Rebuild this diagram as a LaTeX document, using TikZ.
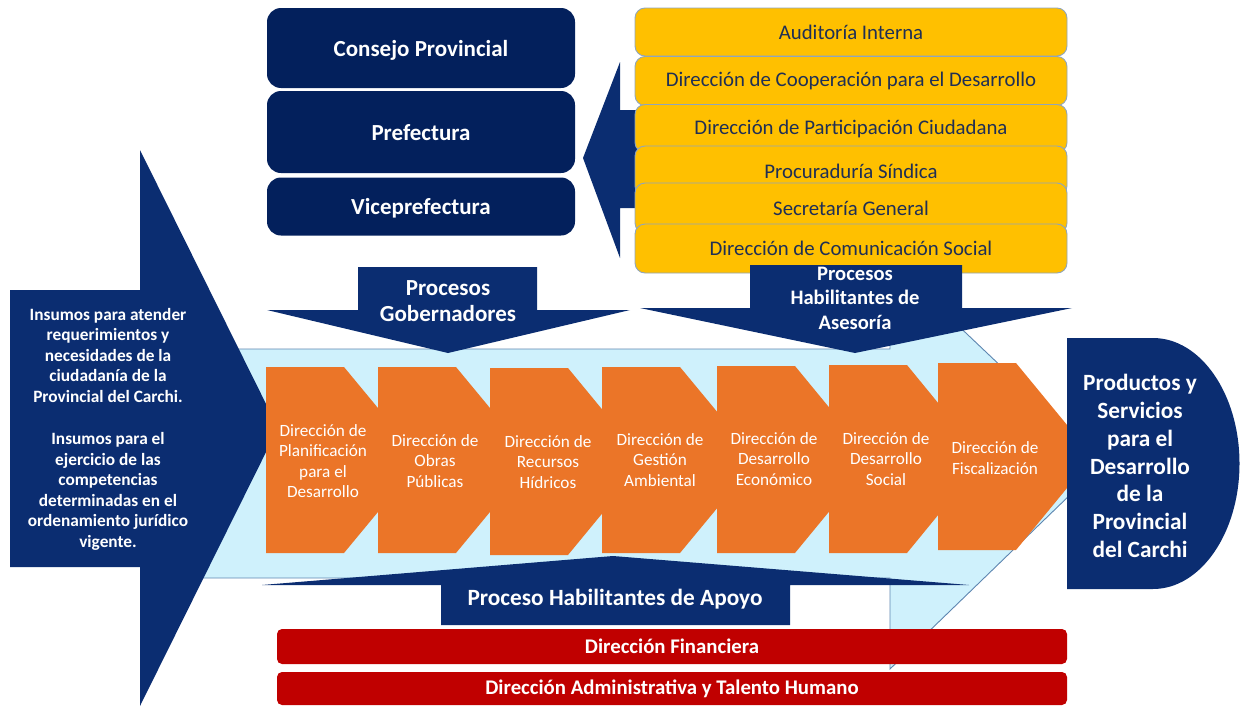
\documentclass[tikz,border=0pt]{standalone}
\usepackage{fontspec}
\setmainfont{Carlito}
\definecolor{navy}{HTML}{0B2D71}
\definecolor{navyd}{HTML}{03205C}
\definecolor{orng}{HTML}{EB7528}
\definecolor{ylw}{HTML}{FFC000}
\definecolor{ylwline}{HTML}{8FA5BC}
\definecolor{ytext}{HTML}{1F2F55}
\definecolor{redb}{HTML}{C00000}
\definecolor{lblue}{HTML}{CFF1FC}
\definecolor{lbline}{HTML}{5E86B0}
\begin{document}
\begin{tikzpicture}[x=1pt,y=-1pt,
  wt/.style={text=white, align=center, inner sep=0pt},
  otext/.style={wt, font=\fontsize{17.2}{20.5}\selectfont},
  topbox/.style={fill=navyd, rounded corners=14pt, minimum width=308pt, text=white, font=\fontsize{23}{27}\selectfont\bfseries, inner sep=0pt},
  ybox/.style={fill=ylw, draw=ylwline, line width=0.9pt, rounded corners=10pt, minimum width=432pt, text=ytext, font=\fontsize{20.8}{24}\selectfont, inner sep=0pt},
  rbox/.style={fill=redb, rounded corners=5pt, minimum width=790pt, text=white, font=\fontsize{20.8}{24}\selectfont\bfseries, inner sep=0pt},
  navyshape/.style={fill=navy},
  orshape/.style={fill=orng}
]
\useasboundingbox (0,0) rectangle (1240,707);

% light blue main arrow
\draw[fill=lblue, draw=lbline, line width=0.9pt] (195,349) -- (890,349) -- (890,261) -- (1103,463) -- (890,669) -- (890,578) -- (195,578) -- cycle;

% big left input arrow
\fill[navyshape] (10,290) -- (140,290) -- (140,150) -- (278,428) -- (140,706) -- (140,567) -- (10,567) -- cycle;
\node[wt, font=\fontsize{17.3}{20.5}\selectfont\bfseries] (insumos) at (108,429)
  {Insumos para atender\\requerimientos y\\necesidades de la\\ciudadanía de la\\Provincial del Carchi.\\[22pt]Insumos para el\\ejercicio de las\\competencias\\determinadas en el\\ordenamiento jurídico\\vigente.};

% orange chevrons
\foreach \L/\T/\B in {266/367/553, 378/367/553, 490/368/555, 602/367/553, 717/366/553, 829/365/553, 938/363/550}{
  \fill[orshape] (\L,\T) -- (\L+78,\T) -- ({\L+155},{(\T+\B)/2}) -- (\L+78,\B) -- (\L,\B) -- cycle;
}
\node[otext] (o1) at (323,461) {Dirección de\\Planificación\\para el\\Desarrollo};
\node[otext] (o2) at (435,461) {Dirección de\\Obras\\Públicas};
\node[otext] (o3) at (548,462) {Dirección de\\Recursos\\Hídricos};
\node[otext] (o4) at (660,460) {Dirección de\\Gestión\\Ambiental};
\node[otext] (o5) at (774,459) {Dirección de\\Desarrollo\\Económico};
\node[otext] (o6) at (886,459) {Dirección de\\Desarrollo\\Social};
\node[otext] (o7) at (995,458) {Dirección de\\Fiscalización};

% up arrow (apoyo)
\fill[navyshape] (613,556) -- (969,585) -- (790,585) -- (790,625) -- (441,625) -- (441,585) -- (262,585) -- cycle;
\node[wt, font=\fontsize{23.3}{27}\selectfont\bfseries] (apoyo) at (615,599) {Proceso Habilitantes de Apoyo};

% output box
\fill[navyshape] (1067,338) -- (1153,338) arc[start angle=90, end angle=-90, x radius=86.5pt, y radius=125.5pt] -- (1067,589) -- cycle;
\node[wt, font=\fontsize{23.3}{27.7}\selectfont\bfseries] (productos) at (1140,466)
  {Productos y\\Servicios\\para el\\Desarrollo\\de la\\Provincial\\del Carchi};

% left-pointing arrow behind yellow boxes
\fill[navyshape] (583,158) -- (620,62) -- (620,110) -- (700,110) -- (700,208) -- (620,208) -- (620,258) -- cycle;

% top navy boxes
\node[topbox, minimum height=80pt] (consejo) at (421,48) {};
\node[wt, font=\fontsize{23}{27}\selectfont\bfseries] at (421,50) {Consejo Provincial};
\node[topbox, minimum height=82pt] (prefectura) at (421,132) {};
\node[wt, font=\fontsize{23}{27}\selectfont\bfseries] at (421,133) {Prefectura};
\node[topbox, minimum height=58pt] (vice) at (421,206.5) {};
\node[wt, font=\fontsize{23}{27}\selectfont\bfseries] at (421,208) {Viceprefectura};

% yellow boxes
\node[ybox, minimum height=48pt] (y1) at (851,32) {Auditoría Interna};
\node[ybox, minimum height=49pt] (y2) at (851,81) {Dirección de Cooperación para el Desarrollo};
\node[ybox, minimum height=48pt] (y3) at (851,128.5) {Dirección de Participación Ciudadana};
\node[ybox, minimum height=50pt] (y4) at (851,171) {Procuraduría Síndica};
\node[ybox, minimum height=50pt] (y5) at (851,208) {Secretaría General};
\node[ybox, minimum height=49pt] (y6) at (851,248.5) {Dirección de Comunicación Social};

% down arrows
\fill[navyshape] (358,267) -- (537,267) -- (537,310) -- (630,310) -- (448,353) -- (267,310) -- (358,310) -- cycle;
\node[wt, font=\fontsize{23}{26.5}\selectfont\bfseries] (gob) at (448,301) {Procesos\\Gobernadores};
\fill[navyshape] (750,265) -- (962,265) -- (962,308) -- (1072,308) -- (855,353) -- (640,308) -- (750,308) -- cycle;
\node[wt, font=\fontsize{20.6}{24.5}\selectfont\bfseries] (ases) at (855,298) {Procesos\\Habilitantes de\\Asesoría};

% red boxes
\node[rbox, minimum height=35pt] (fin) at (672,646.5) {Dirección Financiera};
\node[rbox, minimum height=33pt] (adm) at (672,688.5) {Dirección Administrativa y Talento Humano};
\end{tikzpicture}
\end{document}
